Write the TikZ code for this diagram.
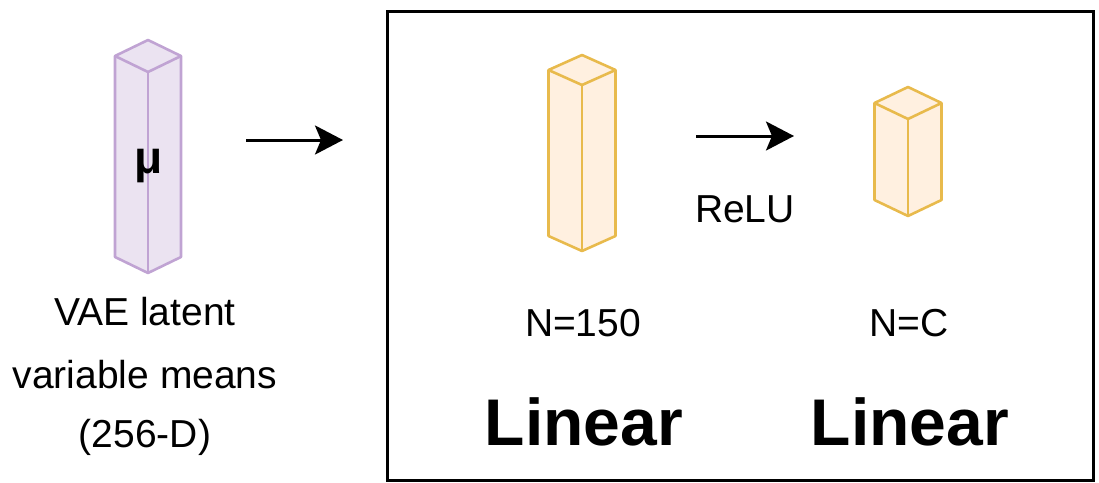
\documentclass[tikz,border=0pt]{standalone}
\usepackage{fontspec}
\setmainfont{Liberation Sans}
\usetikzlibrary{arrows.meta}
\definecolor{purpfill}{HTML}{EBE3F1}
\definecolor{purpline}{HTML}{C0A3D3}
\definecolor{orfill}{HTML}{FFF0E0}
\definecolor{orline}{HTML}{E8BA4C}
\tikzset{
  cuboid/.pic={
    \tikzset{cubestyle/.style={line width=2.6pt, line join=round}}
    \path[cubestyle, fill=\cfill, draw=\cline]
      (0,0) -- (-\cw,\cd) -- (-\cw,\cd+\ch) -- (0,2*\cd+\ch) -- (\cw,\cd+\ch) -- (\cw,\cd) -- cycle;
    \draw[cubestyle, draw=\cline] (-\cw,\cd) -- (0,2*\cd) -- (\cw,\cd);
    \draw[cubestyle, draw=\cline] (0,2*\cd) -- (0,2*\cd+\ch);
  },
  lbl/.style={font=\fontsize{39}{46}\selectfont, inner sep=0pt, anchor=base},
  big/.style={font=\fontsize{66}{76}\selectfont\bfseries, inner sep=0pt, anchor=base},
  flow/.style={line width=3pt, -{Stealth[length=28pt, width=29pt, inset=6pt]}},
}
\begin{document}
\begin{tikzpicture}[x=1pt, y=-1pt]
\useasboundingbox (0,0) rectangle (1099,482);
% outer box
\node[draw=black, line width=3.2pt, minimum width=706pt, minimum height=469pt, inner sep=0pt, anchor=north west] (frame) at (386,10) {};
% purple cuboid
\def\cw{33}\def\cd{16}\def\ch{201}\def\cfill{purpfill}\def\cline{purpline}
\pic at (148,40) {cuboid};
\node[font=\fontsize{46}{52}\selectfont\bfseries, inner sep=0pt, anchor=base] (mu) at (149,173) {μ};
% orange cuboid 1
\def\cw{33.5}\def\cd{15}\def\ch{166}\def\cfill{orfill}\def\cline{orline}
\pic at (582,55) {cuboid};
% orange cuboid 2
\def\cw{33.5}\def\cd{16}\def\ch{97}
\pic at (908,87) {cuboid};
% texts
\node[lbl] (t1) at (145,325) {VAE latent};
\node[lbl] (t2) at (145,388) {variable means};
\node[lbl] (t3) at (145,447) {(256-D)};
\node[lbl] (n150) at (583,336) {N=150};
\node[lbl] (nc) at (909,336) {N=C};
\node[lbl] (relu) at (745,222) {ReLU};
\node[big] (lin1) at (584,445) {Linear};
\node[big] (lin2) at (910,445) {Linear};
% arrows
\coordinate (a1s) at (246,140);
\coordinate (a1e) at (343,140);
\coordinate (a2s) at (696,136);
\coordinate (a2e) at (794,136);
\draw[flow] (a1s) -- (a1e);
\draw[flow] (a2s) -- (a2e);
\end{tikzpicture}
\end{document}
